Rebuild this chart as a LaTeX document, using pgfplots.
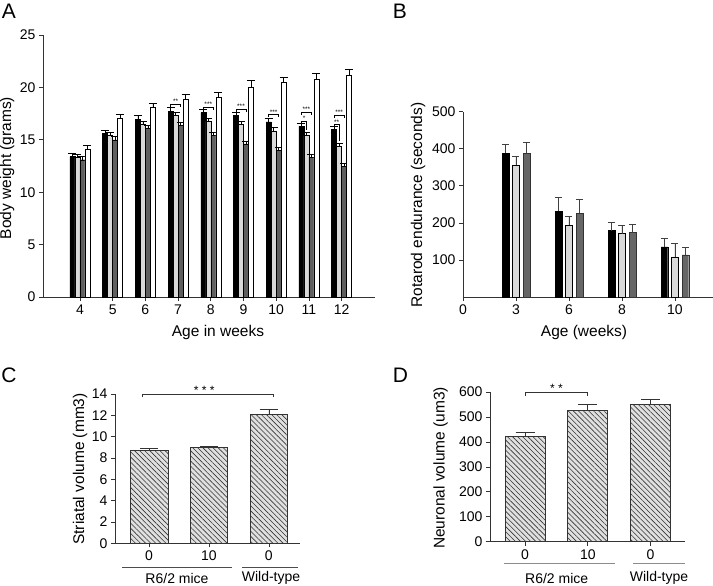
\documentclass[border=0pt]{standalone}
\usepackage{fontspec}
\setmainfont{Liberation Sans}
\usepackage{pgfplots}
\pgfplotsset{compat=1.18}
\usetikzlibrary{patterns.meta}

\definecolor{lgray}{HTML}{D9D9D9}
\definecolor{dgray}{HTML}{5F5F5F}
\definecolor{axcol}{HTML}{333333}

\pgfplotsset{
  panel/.style={
    scale only axis, anchor=south west, clip=false,
    axis x line*=bottom, axis y line*=left,
    axis line style={-, axcol, line width=0.7pt},
    tick style={axcol, line width=0.7pt},
    tick align=outside, major tick length=4pt,
    ymin=0, enlargelimits=false,
    tick label style={font=\fontsize{14}{16}\selectfont},
    /pgf/number format/assume math mode=true,
    error bars/y dir=plus, error bars/y explicit,
  },
  errs/.style 2 args={error bars/error bar style={#1, line width=0.7pt},
    error bars/error mark options={rotate=90, #1, line width=0.7pt, mark size=#2}},
  hatch/.style={fill=black!12, draw=axcol, line width=0.7pt,
    postaction={pattern={Lines[angle=-45,distance=3.6pt,line width=0.6pt]}, pattern color=black!80}},
}
\newcommand{\lab}{\fontsize{15.5}{18}\selectfont}
\newcommand{\tk}{\fontsize{14}{16}\selectfont}
% bracket: x1, x2, y, left leg end, right leg end, label x, label
\newcommand{\sig}[7]{%
  \draw[black, line width=0.5pt] (axis cs:#1,#4) -- (axis cs:#1,#3) -- (axis cs:#2,#3) -- (axis cs:#2,#5);
  \node[font=\fontsize{6.5}{6.5}\selectfont, inner sep=0.3pt, anchor=south] at (axis cs:#6,#3) {#7};}

\begin{document}
\begin{tikzpicture}
\useasboundingbox (0,0) rectangle (713pt,-586pt);

% ---------------- A
\begin{axis}[panel, at={(43pt,-297pt)}, width=332pt, height=262pt,
  xmin=2.87, xmax=13.02, ymax=25, xtick={4,...,12}, ytick={0,5,...,25},
  ybar=0pt, bar width=5pt]
\addplot[fill=black, draw=black, errs={black}{4pt}] coordinates {
 (4,13.4) +- (0,0.3) (5,15.6) +- (0,0.3) (6,16.95) +- (0,0.35) (7,17.7) +- (0,0.35) (8,17.6) +- (0,0.35)
 (9,17.3) +- (0,0.3) (10,16.7) +- (0,0.3) (11,16.3) +- (0,0.3) (12,16.0) +- (0,0.3)};
\addplot[fill=lgray, draw=black, errs={black}{4pt}] coordinates {
 (4,13.3) +- (0,0.3) (5,15.4) +- (0,0.3) (6,16.5) +- (0,0.3) (7,17.3) +- (0,0.3) (8,16.75) +- (0,0.3)
 (9,16.45) +- (0,0.3) (10,15.85) +- (0,0.3) (11,15.4) +- (0,0.3) (12,14.4) +- (0,0.3)};
\addplot[fill=dgray, draw=black, errs={black}{4pt}] coordinates {
 (4,13.1) +- (0,0.3) (5,15.0) +- (0,0.3) (6,16.1) +- (0,0.3) (7,16.4) +- (0,0.3) (8,15.4) +- (0,0.3)
 (9,14.6) +- (0,0.3) (10,14.0) +- (0,0.3) (11,13.35) +- (0,0.3) (12,12.45) +- (0,0.3)};
\addplot[fill=white, draw=black, errs={black}{4pt}] coordinates {
 (4,14.1) +- (0,0.4) (5,17.1) +- (0,0.35) (6,18.15) +- (0,0.35) (7,18.9) +- (0,0.4) (8,19.1) +- (0,0.45)
 (9,20.05) +- (0,0.6) (10,20.5) +- (0,0.5) (11,20.8) +- (0,0.55) (12,21.15) +- (0,0.55)};
% significance marks
\sig{6.77}{7.077}{18.4}{18.15}{18.15}{6.923}{**}
\sig{7.77}{8.077}{18.1}{17.85}{17.85}{7.923}{***}
\sig{8.77}{9.077}{17.9}{17.65}{17.65}{8.923}{***}
\sig{9.77}{10.077}{17.4}{17.15}{17.15}{9.923}{***}
\sig{10.77}{11.077}{17.65}{17.4}{17.4}{10.923}{***}
\sig{11.77}{12.077}{17.35}{17.1}{17.1}{11.923}{***}
\sig{10.77}{10.923}{16.75}{16.55}{15.9}{10.85}{*}
\sig{11.77}{11.923}{16.45}{16.25}{14.9}{11.85}{**}
\end{axis}

% ---------------- B
\begin{axis}[panel, at={(463pt,-297pt)}, width=250pt, height=185.3pt,
  xmin=0, xmax=4.72, ymax=500, xtick={0,...,4}, xticklabels={0,3,6,8,10},
  ytick={100,200,...,500}, ybar=3.8pt, bar width=6.7pt]
\addplot[fill=black, draw=black, errs={black!75}{3.5pt}] coordinates {
 (1,388) +- (0,24) (2,232) +- (0,36) (3,179) +- (0,22) (4,135) +- (0,22)};
\addplot[fill=lgray, draw=black, errs={black!75}{3.5pt}] coordinates {
 (1,356) +- (0,23) (2,194) +- (0,24) (3,171) +- (0,21) (4,108) +- (0,36)};
\addplot[fill=black!60, draw=black!80, errs={black!75}{3.5pt}] coordinates {
 (1,388) +- (0,28) (2,226) +- (0,38) (3,174) +- (0,23) (4,114) +- (0,19)};
\end{axis}

% ---------------- C
\begin{axis}[panel, at={(115pt,-543.3pt)}, width=185pt, height=149.3pt,
  xmin=-0.57, xmax=2.52, ymax=14, xtick={0,1,2}, xticklabels={0,10,0},
  ytick={0,2,...,14}, ybar, bar width=37.7pt]
\addplot[hatch, errs={axcol}{9pt}] coordinates {
 (0,8.72) +- (0,0.15) (1,9.0) +- (0,0.1) (2,12.1) +- (0,0.45)};
\draw[axcol, line width=0.6pt] (axis cs:-0.12,13.7) -- (axis cs:-0.12,14) -- (axis cs:2.07,14) -- (axis cs:2.07,13.7);
\node[font=\fontsize{12}{12}\selectfont, inner sep=1pt, anchor=south] at (axis cs:0.92,13.85) {* * *};
\end{axis}

% ---------------- D
\begin{axis}[panel, at={(490pt,-541.7pt)}, width=195pt, height=149.7pt,
  xmin=-0.56, xmax=2.55, ymax=600, xtick={0,1,2}, xticklabels={0,10,0},
  ytick={0,100,...,600}, ybar, bar width=40pt]
\addplot[hatch, errs={axcol}{9.5pt}] coordinates {
 (0,422) +- (0,15) (1,527) +- (0,22) (2,549) +- (0,23)};
\draw[axcol, line width=0.6pt] (axis cs:0.01,584) -- (axis cs:0.01,600) -- (axis cs:0.99,600) -- (axis cs:0.99,584);
\node[font=\fontsize{12}{12}\selectfont, inner sep=1pt, anchor=south] at (axis cs:0.5,593) {* *};
\end{axis}

% ---------------- labels
\node[font=\fontsize{21}{24}\selectfont] at (9pt,-11pt) {A};
\node[font=\fontsize{21}{24}\selectfont] at (400pt,-11pt) {B};
\node[font=\fontsize{21}{24}\selectfont] at (9pt,-375pt) {C};
\node[font=\fontsize{21}{24}\selectfont] at (400.5pt,-375pt) {D};

\node[font=\lab, rotate=90] at (7pt,-168pt) {Body weight (grams)};
\node[font=\lab] at (218pt,-332pt) {Age in weeks};
\node[font=\lab, rotate=90] at (418pt,-205pt) {Rotarod endurance (seconds)};
\node[font=\lab] at (584pt,-332pt) {Age (weeks)};
\node[font=\lab, rotate=90] at (80pt,-469pt) {Striatal volume (mm3)};
\node[font=\lab, rotate=90] at (440.5pt,-468pt) {Neuronal volume (um3)};

\draw[black!70, line width=0.8pt] (122pt,-567pt) -- (232pt,-567pt);
\draw[black!70, line width=0.8pt] (242pt,-567pt) -- (298pt,-567pt);
\node[font=\tk] at (177pt,-578pt) {R6/2 mice};
\node[font=\tk] at (271pt,-578pt) {Wild-type};
\draw[black!45, line width=0.8pt] (504pt,-563pt) -- (615pt,-563pt);
\draw[black!45, line width=0.8pt] (633pt,-563pt) -- (685pt,-563pt);
\node[font=\tk] at (556.7pt,-578pt) {R6/2 mice};
\node[font=\tk] at (659pt,-578pt) {Wild-type};
\end{tikzpicture}
\end{document}
